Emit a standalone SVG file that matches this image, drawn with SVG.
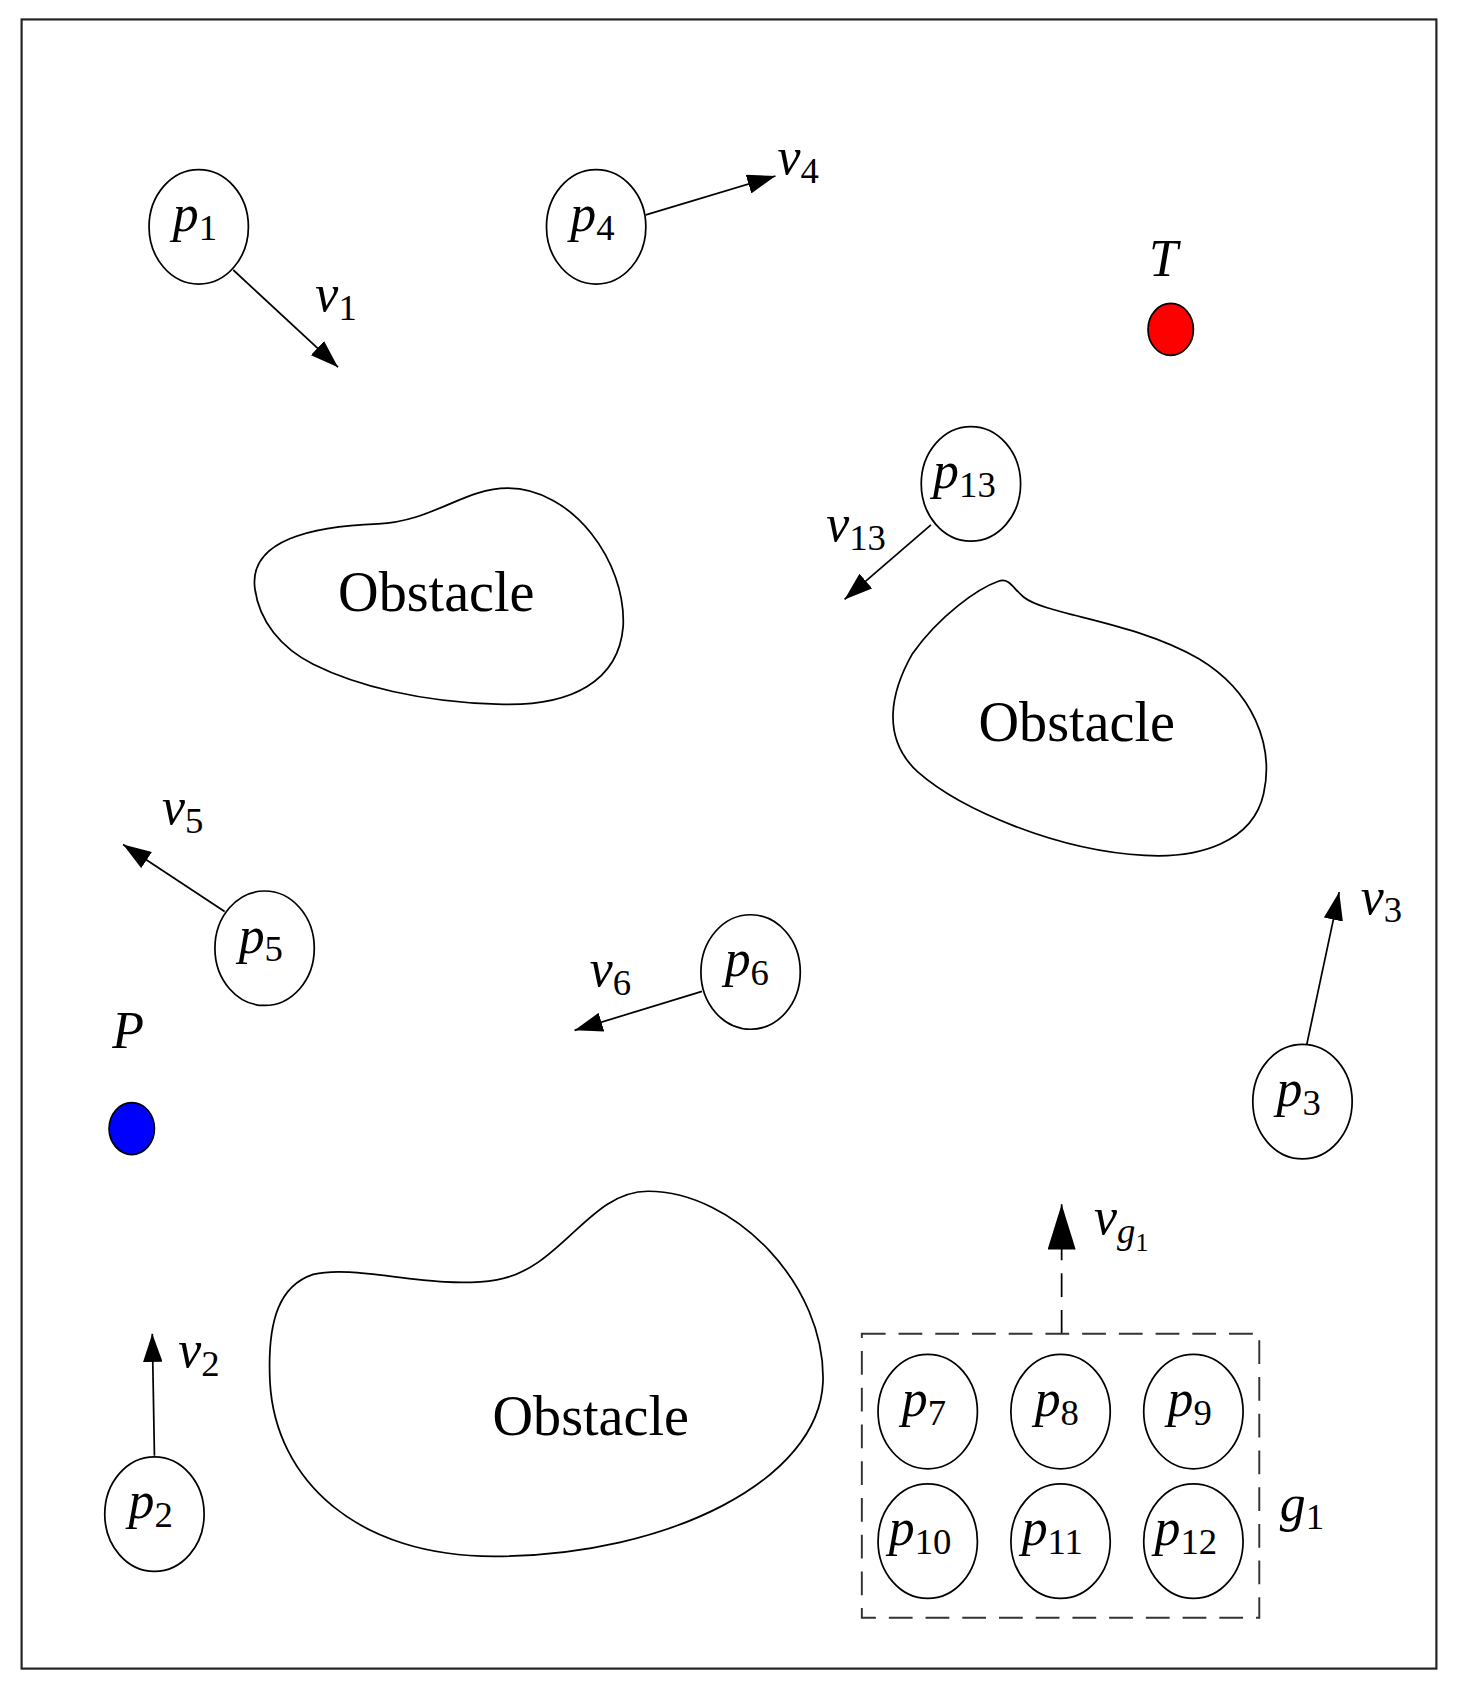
<svg xmlns="http://www.w3.org/2000/svg" width="1458" height="1696" viewBox="0 0 1458 1696">
<style>
.n{fill:#fff;stroke:#000;stroke-width:1.6}
.m{font-family:"Liberation Serif",serif;font-style:italic;font-size:48px}
.s{font-size:34px;font-style:normal}
.o{font-family:"Liberation Serif",serif;font-size:52px}
.a{stroke:#000;stroke-width:1.6;fill:none}
.ob{fill:none;stroke:#000;stroke-width:1.6}
</style>
<defs>
<marker id="ar2" markerWidth="26" markerHeight="18" refX="26" refY="9" orient="auto" markerUnits="userSpaceOnUse"><path d="M0,0L26,9L0,18z"/></marker>
<marker id="ar3" markerWidth="42" markerHeight="26" refX="42" refY="13" orient="auto" markerUnits="userSpaceOnUse"><path d="M0,0L42,13L0,26z"/></marker></defs>
<rect width="1458" height="1696" fill="#fff"/>
<g transform="scale(1.08)">
<rect x="20" y="18" width="1310" height="1527" fill="none" stroke="#222" stroke-width="2"/>
<g id="connectors">
<line class="a" x1="216" y1="250" x2="313" y2="340" marker-end="url(#ar2)"/>
<line class="a" x1="598" y1="199" x2="718" y2="163" marker-end="url(#ar2)"/>
<line class="a" x1="862" y1="486" x2="782" y2="555" marker-end="url(#ar2)"/>
<line class="a" x1="208" y1="844" x2="114" y2="782" marker-end="url(#ar2)"/>
<line class="a" x1="650" y1="918" x2="532" y2="954" marker-end="url(#ar2)"/>
<line class="a" x1="1210" y1="967" x2="1240" y2="826" marker-end="url(#ar2)"/>
<line class="a" x1="143" y1="1348" x2="141" y2="1235" marker-end="url(#ar2)"/>
<line class="a" x1="983" y1="1235" x2="983" y2="1115" stroke-dasharray="22 12" stroke="#333" marker-end="url(#ar3)"/>
</g>
<g id="obstacles">
<path class="ob" d="M236,545C230,500 290,487 350,485C400,483 430,452 470,452C530,452 580,520 577,580C573,630 530,655 460,652C390,650 330,635 290,615C260,600 240,575 236,545Z"/>
<text class="o" x="404" y="566" text-anchor="middle">Obstacle</text>
<path class="ob" d="M925,538C935,535 938,545 948,553C970,570 1050,575 1110,610C1160,640 1180,690 1170,735C1160,780 1110,795 1060,792C980,788 890,750 850,715C815,683 825,640 845,605C870,570 905,545 925,538Z"/>
<text class="o" x="997" y="686" text-anchor="middle">Obstacle</text>
<path class="ob" d="M290,1180C330,1170 400,1195 460,1185C520,1175 545,1103 600,1103C680,1103 765,1190 762,1280C758,1370 620,1440 460,1441C330,1442 255,1370 250,1280C247,1220 260,1190 290,1180Z"/>
<text class="o" x="547" y="1329" text-anchor="middle">Obstacle</text>
</g>
<g id="group"><rect x="798" y="1235" width="368" height="263" fill="none" stroke="#333" stroke-width="1.8" stroke-dasharray="22 12"/>
<text class="m" x="1185" y="1408">g<tspan class="s" dy="8">1</tspan></text></g>
<g id="p1"><ellipse class="n" cx="184" cy="210" rx="46" ry="53"/><text class="m" x="160" y="214">p<tspan class="s" dy="8">1</tspan></text></g>
<text class="m" x="292" y="288">v<tspan class="s" dy="8">1</tspan></text>
<g id="p4"><ellipse class="n" cx="552" cy="210" rx="46" ry="53"/><text class="m" x="528" y="214">p<tspan class="s" dy="8">4</tspan></text></g>
<text class="m" x="720" y="161">v<tspan class="s" dy="8">4</tspan></text>
<g id="T"><text class="m" x="1064" y="256">T</text><ellipse cx="1084" cy="305" rx="21" ry="24" fill="#f00" stroke="#000" stroke-width="1.6"/></g>
<g id="p13"><ellipse class="n" cx="899" cy="448" rx="46" ry="53"/><text class="m" x="864" y="452">p<tspan class="s" dy="8">13</tspan></text></g>
<text class="m" x="765" y="501">v<tspan class="s" dy="8">13</tspan></text>
<g id="p5"><ellipse class="n" cx="245" cy="878" rx="46" ry="53"/><text class="m" x="221" y="882">p<tspan class="s" dy="8">5</tspan></text></g>
<text class="m" x="150" y="763">v<tspan class="s" dy="8">5</tspan></text>
<g id="p6"><ellipse class="n" cx="695" cy="900" rx="46" ry="53"/><text class="m" x="671" y="904">p<tspan class="s" dy="8">6</tspan></text></g>
<text class="m" x="546" y="913">v<tspan class="s" dy="8">6</tspan></text>
<g id="P"><text class="m" x="104" y="970">P</text><ellipse cx="122" cy="1045" rx="21" ry="24" fill="#00f" stroke="#000" stroke-width="1.6"/></g>
<g id="p3"><ellipse class="n" cx="1206" cy="1020" rx="46" ry="53"/><text class="m" x="1182" y="1024">p<tspan class="s" dy="8">3</tspan></text></g>
<text class="m" x="1260" y="846">v<tspan class="s" dy="8">3</tspan></text>
<g id="p2"><ellipse class="n" cx="143" cy="1402" rx="46" ry="53"/><text class="m" x="119" y="1406">p<tspan class="s" dy="8">2</tspan></text></g>
<text class="m" x="165" y="1266">v<tspan class="s" dy="8">2</tspan></text>
<text class="m" x="1013" y="1143">v<tspan class="s" dy="8" style="font-style:italic">g</tspan><tspan class="s" style="font-size:24px" dy="7">1</tspan></text>
<g id="p7"><ellipse class="n" cx="859" cy="1307" rx="46" ry="53"/><text class="m" x="835" y="1311">p<tspan class="s" dy="8">7</tspan></text></g>
<g id="p8"><ellipse class="n" cx="982" cy="1307" rx="46" ry="53"/><text class="m" x="958" y="1311">p<tspan class="s" dy="8">8</tspan></text></g>
<g id="p9"><ellipse class="n" cx="1105" cy="1307" rx="46" ry="53"/><text class="m" x="1081" y="1311">p<tspan class="s" dy="8">9</tspan></text></g>
<g id="p10"><ellipse class="n" cx="859" cy="1427" rx="46" ry="53"/><text class="m" x="823" y="1431">p<tspan class="s" dy="8">10</tspan></text></g>
<g id="p11"><ellipse class="n" cx="982" cy="1427" rx="46" ry="53"/><text class="m" x="946" y="1431">p<tspan class="s" dy="8">11</tspan></text></g>
<g id="p12"><ellipse class="n" cx="1105" cy="1427" rx="46" ry="53"/><text class="m" x="1069" y="1431">p<tspan class="s" dy="8">12</tspan></text></g>
</g>
</svg>
